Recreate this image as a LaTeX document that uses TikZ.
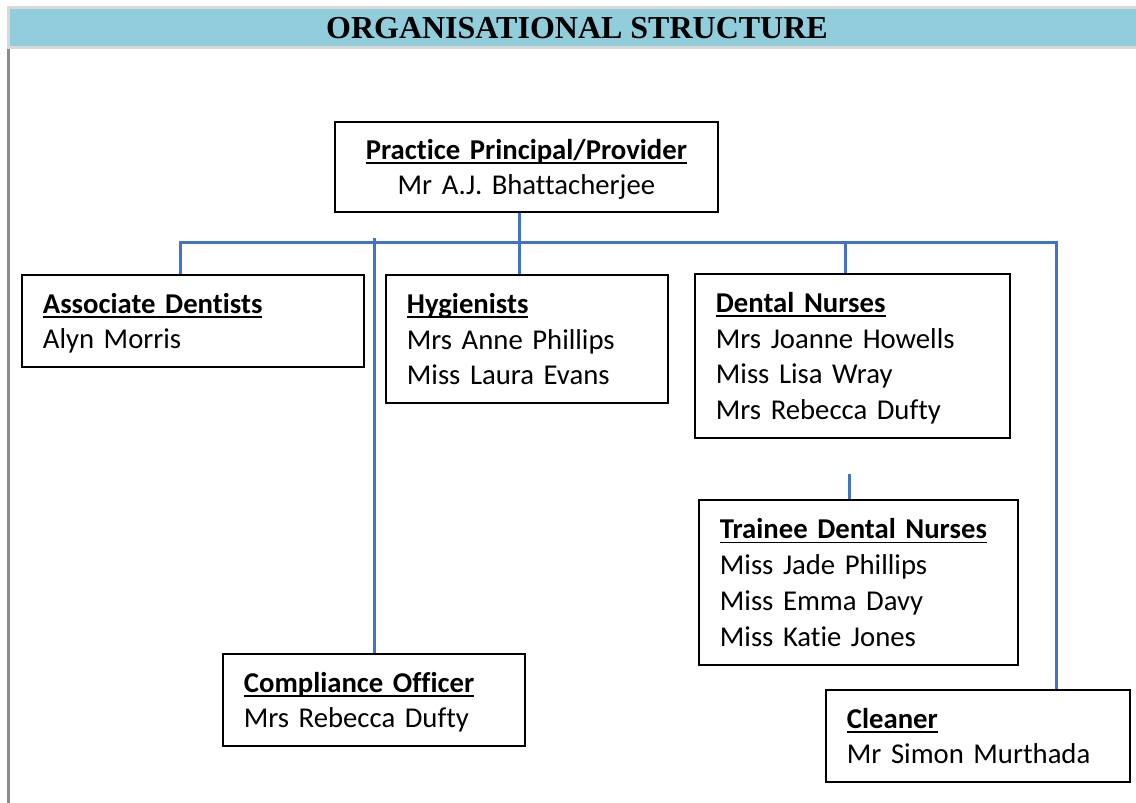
\documentclass[tikz,border=0pt]{standalone}
\usepackage{fontspec}
\newfontfamily\calfont[RawFeature={-liga;-dlig}]{Carlito}
\newfontfamily\tnrfont{Liberation Serif}
\definecolor{hdrcyan}{HTML}{92CDDC}
\definecolor{hdrgray}{HTML}{D9D9D9}
\definecolor{sidegray}{HTML}{8C8C8C}
\definecolor{linkblue}{HTML}{4472C4}
\newcommand{\ttl}[1]{\setbox0\hbox{\bfseries #1}\rlap{\rule[-4.5pt]{\wd0}{1.8pt}}\box0\rule{0pt}{31pt}}
\newcommand{\lastline}[1]{#1\strut}
\begin{document}
\begin{tikzpicture}[x=1pt,y=-1pt,
  box/.style={draw, line width=1.8pt, rectangle, anchor=north west,
    inner xsep=21pt, inner ysep=0pt, align=left,
    font=\calfont\fontsize{28.7}{35.8}\selectfont},
  conn/.style={draw=linkblue, line width=3pt}]
\useasboundingbox (0,0) rectangle (1136,803);
% header
\fill[hdrgray] (7,6) rectangle (1136,49);
\fill[hdrcyan] (10,9) rectangle (1136,46);
\fill[sidegray] (7,49) rectangle (10,803);
\node[font=\tnrfont\bfseries\fontsize{32}{36}\selectfont] (title) at (577,28.5) {ORGANISATIONAL STRUCTURE};
% boxes
\node[box, align=center, text width=341pt, minimum height=90pt] (P) at (334,121)
  {\ttl{Practice Principal/Provider}\\\lastline{Mr A.J. Bhattacherjee}};
\node[box, text width=300pt, minimum height=92pt] (A) at (21,274)
  {\ttl{Associate Dentists}\\\lastline{Alyn Morris}};
\node[box, text width=240pt, minimum height=128pt] (H) at (385,274)
  {\ttl{Hygienists}\\Mrs Anne Phillips\\\lastline{Miss Laura Evans}};
\node[box, text width=273pt, minimum height=164pt] (D) at (694,273)
  {\ttl{Dental Nurses}\\Mrs Joanne Howells\\Miss Lisa Wray\\\lastline{Mrs Rebecca Dufty}};
\node[box, text width=277pt, minimum height=165pt] (T) at (698,499)
  {\ttl{Trainee Dental Nurses}\\Miss Jade Phillips\\Miss Emma Davy\\\lastline{Miss Katie Jones}};
\node[box, text width=260pt, minimum height=92pt] (C) at (222,653)
  {\ttl{Compliance Officer}\\\lastline{Mrs Rebecca Dufty}};
\node[box, text width=262pt, minimum height=92pt] (Cl) at (825,689)
  {\ttl{Cleaner}\\\lastline{Mr Simon Murthada}};
% connectors
\coordinate (bl) at (180,242);
\coordinate (br) at (1056,242);
\coordinate (pc) at (519,0);
\coordinate (dc) at (845,0);
\coordinate (cc) at (374,238);
\coordinate (ts) at (849,474);
\draw[conn, line join=miter] (A.north -| bl) -- (bl) -- (br) -- (br |- Cl.north);
\draw[conn] (P.south -| pc) -- (H.north -| pc);
\draw[conn] (dc |- bl) -- (D.north -| dc);
\draw[conn] (cc) -- (C.north -| cc);
\draw[conn] (ts) -- (T.north -| ts);
\end{tikzpicture}
\end{document}
